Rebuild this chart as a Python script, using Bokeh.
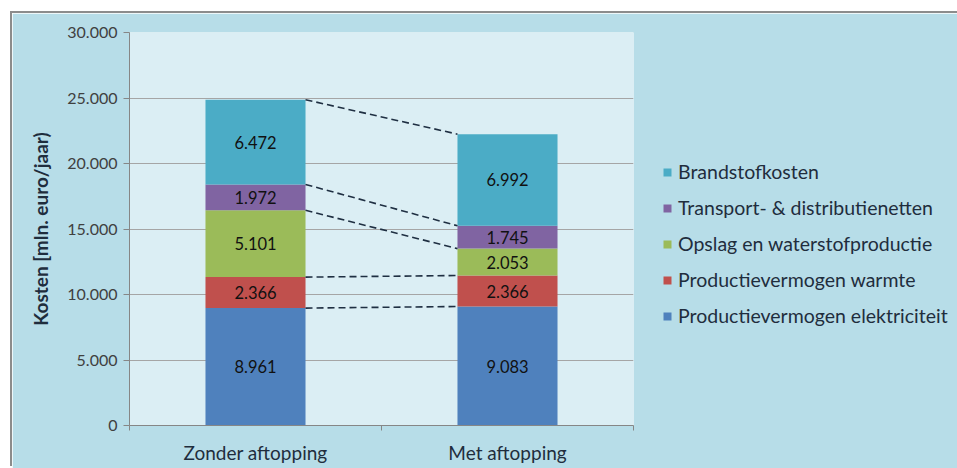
import numpy as np
from bokeh.plotting import figure
from bokeh.models import ColumnDataSource, Legend, LegendItem, FixedTicker, Range1d
from bokeh.core.properties import value
from bokeh.embed import file_html
from bokeh.resources import INLINE

categories = ["Zonder aftopping", "Met aftopping"]
series_names = ["Productievermogen elektriciteit", "Productievermogen warmte",
                "Opslag en waterstofproductie", "Transport- & distributienetten",
                "Brandstofkosten"]
elektriciteit = [8961, 9083]
warmte = [2366, 2366]
opslag = [5101, 2053]
transport = [1972, 1745]
brandstof = [6472, 6992]
y_ticks = [0, 5000, 10000, 15000, 20000, 25000, 30000]
y_tick_labels = ["0", "5.000", "10.000", "15.000", "20.000", "25.000", "30.000"]

colors = ["#4f81bd", "#c0504d", "#9bbb59", "#8064a2", "#4bacc6"]
series = [elektriciteit, warmte, opslag, transport, brandstof]
keys = ["s0", "s1", "s2", "s3", "s4"]

FONT = "Lato"
xpos = [0.5, 1.5]
bar_w = 0.397

data = {"x": xpos}
for k, s in zip(keys, series):
    data[k] = s
src = ColumnDataSource(data)

p = figure(width=945, height=455, output_backend="svg", toolbar_location=None,
           x_range=Range1d(0, 2), y_range=Range1d(0, 30000),
           min_border_left=117, min_border_right=0, min_border_top=19, min_border_bottom=43,
           margin=(13, 0, 0, 12))
p.styles = {"box-shadow": "-2px -2px 0 0 #8c8c8c"}
p.background_fill_color = "#dbeef4"
p.border_fill_color = "#b7dde8"
p.outline_line_color = None

renderers = p.vbar_stack(keys, x="x", width=bar_w, source=src, color=colors, line_color=None)

# dashed series lines
cum = np.cumsum(np.array(series), axis=0)
p.segment(x0=[xpos[0] + bar_w / 2] * 5, x1=[xpos[1] - bar_w / 2] * 5,
          y0=list(cum[:, 0]), y1=list(cum[:, 1]),
          line_color="#1f2f42", line_width=1.6, line_dash="7 4")

# data labels
lx, ly, lt = [], [], []
for i, s in enumerate(series):
    for j in range(2):
        lx.append(xpos[j])
        ly.append(cum[i, j] - s[j] / 2)
        lt.append(f"{s[j]:,}".replace(",", "."))
p.text(x=lx, y=ly, text=lt, text_align="center", text_baseline="middle",
       text_font=value(FONT), text_font_size="16.5px", text_color="#111111")

# axes
p.xgrid.visible = False
p.ygrid.grid_line_color = "#a5a5a5"
p.ygrid.ticker = FixedTicker(ticks=y_ticks)

ya = p.yaxis[0]
ya.ticker = FixedTicker(ticks=y_ticks)
ya.major_label_overrides = {t: l for t, l in zip(y_ticks, y_tick_labels)}
ya.axis_line_color = "#868686"
ya.major_tick_line_color = "#868686"
ya.major_tick_out = 6
ya.major_tick_in = 0
ya.minor_tick_line_color = None
ya.major_label_text_font = FONT
ya.major_label_text_font_size = "16px"
ya.major_label_text_color = "#404040"
ya.major_label_standoff = 6
ya.axis_label = "Kosten [mln. euro/jaar)"
ya.axis_label_text_font = FONT
ya.axis_label_text_font_size = "19px"
ya.axis_label_text_font_style = "bold"
ya.axis_label_text_color = "#1f2d3d"
ya.axis_label_standoff = 12

xa = p.xaxis[0]
xa.ticker = FixedTicker(ticks=xpos, minor_ticks=[0, 1, 2])
xa.major_label_overrides = {xpos[0]: categories[0], xpos[1]: categories[1]}
xa.axis_line_color = "#868686"
xa.major_tick_line_color = None
xa.major_tick_out = 0
xa.major_tick_in = 0
xa.minor_tick_line_color = "#868686"
xa.minor_tick_out = 5
xa.minor_tick_in = 0
xa.major_label_text_font = FONT
xa.major_label_text_font_size = "19px"
xa.major_label_text_color = "#1f2d3d"
xa.major_label_standoff = 10

items = [LegendItem(label=series_names[i], renderers=[renderers[i]]) for i in range(4, -1, -1)]
legend = Legend(items=items, location=(29, 98), orientation="vertical",
                label_text_font=FONT, label_text_font_size="19.5px", label_text_color="#1f2d3d",
                glyph_width=10, glyph_height=10, spacing=13, padding=0, margin=0,
                label_height=20, label_standoff=6,
                background_fill_alpha=0, border_line_color=None)
p.add_layout(legend, "right")
p.frame_width = 504

open("out.html", "w").write(file_html(p, INLINE))
